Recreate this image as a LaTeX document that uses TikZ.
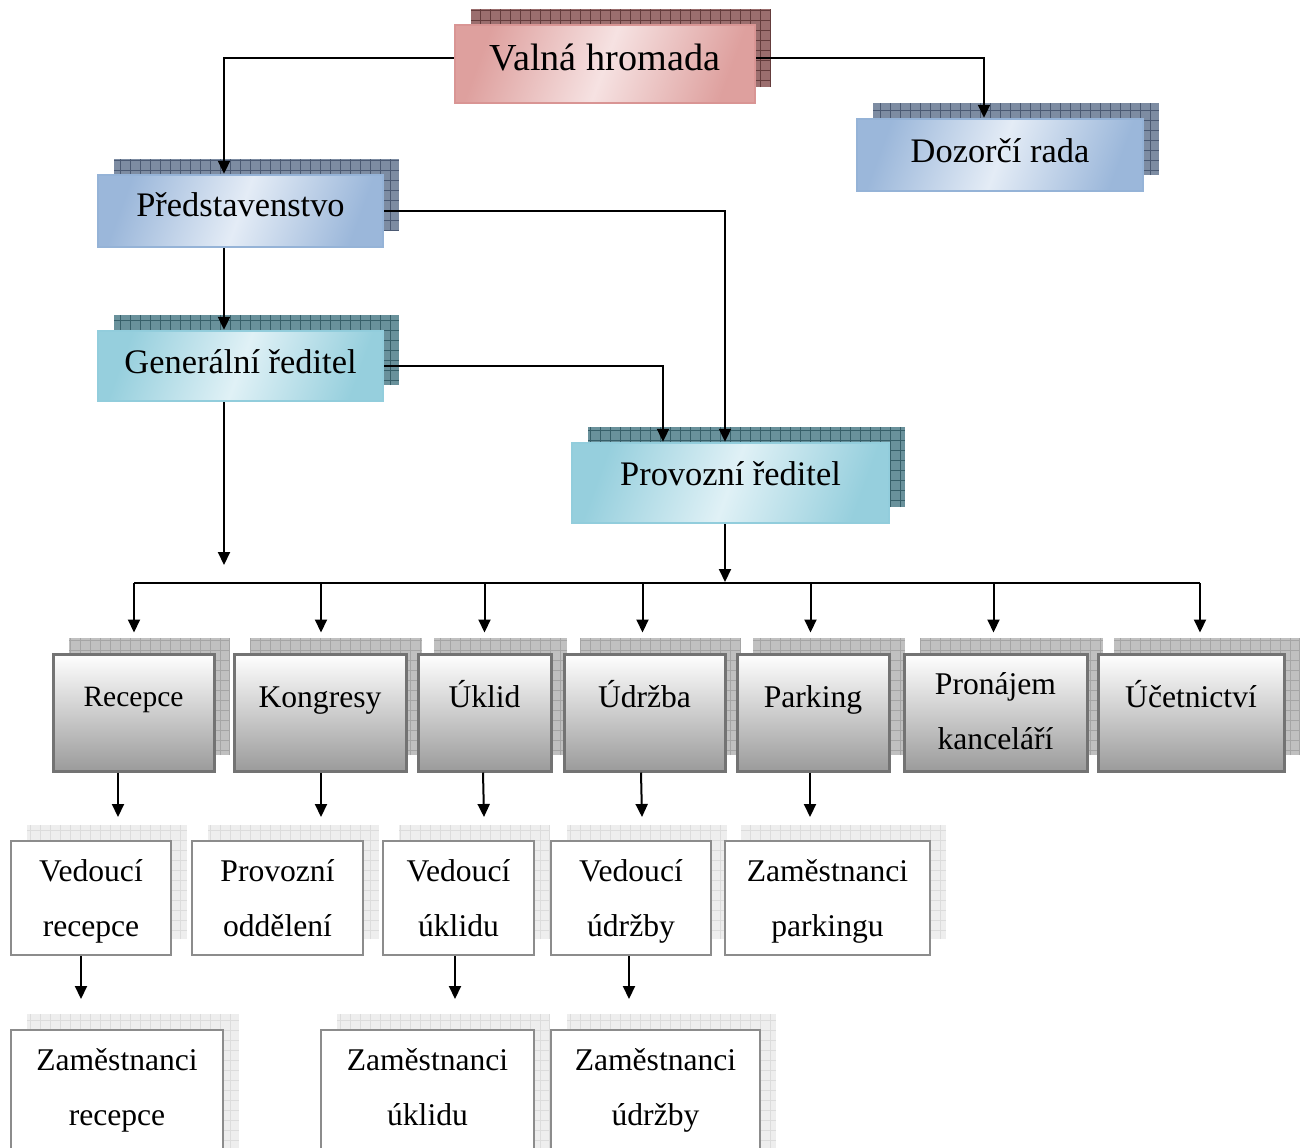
\documentclass[tikz,border=0pt]{standalone}
\usepackage{fontspec}
\setmainfont{Liberation Serif}
\usetikzlibrary{arrows.meta,fit,calc}
\definecolor{pinkD}{RGB}{222,160,158}
\definecolor{pinkL}{RGB}{246,226,226}
\definecolor{pinkB}{RGB}{217,149,148}
\definecolor{pinkS}{RGB}{155,110,110}
\definecolor{pinkG}{RGB}{100,60,60}
\definecolor{blueD}{RGB}{155,183,218}
\definecolor{blueL}{RGB}{228,236,246}
\definecolor{blueB}{RGB}{149,179,215}
\definecolor{blueS}{RGB}{125,140,162}
\definecolor{blueG}{RGB}{75,90,115}
\definecolor{cyanD}{RGB}{150,207,221}
\definecolor{cyanL}{RGB}{224,241,246}
\definecolor{cyanB}{RGB}{146,205,220}
\definecolor{cyanS}{RGB}{105,145,155}
\definecolor{cyanG}{RGB}{55,95,105}
\definecolor{greyB}{RGB}{115,115,115}
\definecolor{greyD}{RGB}{155,155,155}
\definecolor{greyS}{RGB}{192,192,192}
\definecolor{greyG}{RGB}{165,165,165}
\definecolor{whiteB}{RGB}{140,140,140}
\definecolor{whiteS}{RGB}{238,238,238}
\definecolor{whiteG}{RGB}{220,220,220}
\tikzset{
  conn/.style={line width=1pt, black},
  arr/.style={conn, -{Triangle[length=6.5pt,width=6pt]}},
  shgrid/.style 2 args={fill=#1, path picture={\draw[#2, line width=0.5pt, step=5pt] (path picture bounding box.south west) grid (path picture bounding box.north east);}},
  pinksh/.style={shgrid={pinkS}{pinkG}},
  bluesh/.style={shgrid={blueS}{blueG}},
  cyansh/.style={shgrid={cyanS}{cyanG}},
  greysh/.style={shgrid={greyS}{greyG}},
  whitesh/.style={shgrid={whiteS}{whiteG}},
  pinkbox/.style={draw=pinkB, line width=1.2pt, inner sep=0pt, left color=pinkD, right color=pinkD, middle color=pinkL, shading angle=70},
  bluebox/.style={draw=blueB, line width=1.2pt, inner sep=0pt, left color=blueD, right color=blueD, middle color=blueL, shading angle=70},
  cyanbox/.style={draw=cyanB, line width=1.2pt, inner sep=0pt, left color=cyanD, right color=cyanD, middle color=cyanL, shading angle=70},
  greybox/.style={draw=greyB, line width=1.5pt, inner sep=0pt, top color=white, bottom color=greyD},
  whitebox/.style={draw=whiteB, line width=1pt, inner sep=0pt, fill=white},
  txt/.style={inner sep=0pt, align=center, execute at begin node=\strut, execute at end node=\strut},
  pinktx/.style={txt, font=\fontsize{19.1}{23}\selectfont},
  bluetx/.style={txt, font=\fontsize{17.2}{21}\selectfont},
  cyantx/.style={txt, font=\fontsize{17.2}{21}\selectfont},
  greytx/.style={txt, font=\fontsize{15.8}{27.5}\selectfont},
  whitetx/.style={txt, font=\fontsize{15.8}{27.5}\selectfont},
}
\newcommand\orgbox[8]{%
  \path[#2sh] (#3+16,#4-16) rectangle (#5+16,#6-16);
  \node[#2box, fit={(#3,#4) (#5,#6)}] (#1) {};
  \node[#2tx] (#1-t) at ({(#3+#5)/2},#8) {#7};
}
\begin{document}
\begin{tikzpicture}[x=0.5pt,y=-0.5pt]
\useasboundingbox (0,0) rectangle (1306,1147);
\fill[white] (0,0) rectangle (1306,1147);
% top levels
\orgbox{valna}{pink}{455}{25}{755}{103}{Valná hromada}{61}
\orgbox{dozorci}{blue}{857}{119}{1143}{191}{Dozorčí rada}{154}
\orgbox{predst}{blue}{98}{175}{383}{247}{Představenstvo}{208.3}
\orgbox{gen}{cyan}{98}{331}{383}{401}{Generální ředitel}{365}
\orgbox{prov}{cyan}{572}{443}{889}{523}{Provozní ředitel}{476.6}
% departments
\orgbox{recepce}{grey}{53}{654}{214}{771}{{\fontsize{14.75}{27.5}\selectfont Recepce}}{695}
\orgbox{kongresy}{grey}{234}{654}{406}{771}{Kongresy}{696}
\orgbox{uklid}{grey}{418}{654}{551}{771}{Úklid}{696}
\orgbox{udrzba}{grey}{564}{654}{725}{771}{Údržba}{696}
\orgbox{parking}{grey}{737}{654}{889}{771}{Parking}{696}
\orgbox{pronajem}{grey}{904}{654}{1087}{771}{Pronájem\\kanceláří}{719}
\orgbox{ucet}{grey}{1098}{654}{1284}{771}{Účetnictví}{696.5}
% second row
\orgbox{vrec}{white}{11}{841}{171}{955}{Vedoucí\\recepce}{906}
\orgbox{provodd}{white}{192}{841}{363}{955}{Provozní\\oddělení}{906}
\orgbox{vukl}{white}{383}{841}{534}{955}{Vedoucí\\úklidu}{906}
\orgbox{vudr}{white}{551}{841}{711}{955}{Vedoucí\\údržby}{906}
\orgbox{zpark}{white}{725}{841}{930}{955}{Zaměstnanci\\parkingu}{906}
% third row
\orgbox{zrec}{white}{11}{1030}{223}{1170}{Zaměstnanci\\recepce}{1095}
\orgbox{zukl}{white}{321}{1030}{534}{1170}{Zaměstnanci\\úklidu}{1095}
\orgbox{zudr}{white}{551}{1030}{760}{1170}{Zaměstnanci\\údržby}{1095}
% connectors
\coordinate (genend) at (224,565);
\coordinate (busc) at (725,582);
\coordinate (busL) at (134,583);
\coordinate (busR) at (1200,583);
\draw[arr] ([yshift=3pt]valna.west) -| ([xshift=-8.25pt]predst.north);
\draw[arr] ([yshift=3pt]valna.east) -| ([xshift=-8pt]dozorci.north);
\draw[arr] ([xshift=-8.25pt]predst.south) -- ([xshift=-8.25pt]gen.north);
\draw[arr] (predst.east) -| ([xshift=-2.75pt]prov.north);
\draw[arr] (gen.east) -| ([xshift=-33.75pt]prov.north);
\draw[arr] ([xshift=-8.25pt]gen.south) -- (genend);
\draw[arr] ([xshift=-2.75pt]prov.south) -- (busc);
\draw[conn] (busL) -- (busR);
\foreach \n/\d in {recepce/0.5,kongresy/1,uklid/0,udrzba/-2,parking/-2.5,pronajem/-2,ucet/9}{
  \draw[arr] ($(\n.north |- busL)+(\d,0)$) -- ($(\n.north)+(\d,-20)$);
}
\draw[arr] ($(recepce.south)+(-15.5,0)$) -- ($(vrec.north)+(27,-23)$);
\draw[arr] ($(kongresy.south)+(1,0)$) -- ($(provodd.north)+(43.5,-23)$);
\draw[arr] ($(uklid.south)+(-1.5,0)$) -- ($(vukl.north)+(25.5,-23)$);
\draw[arr] ($(udrzba.south)+(-3.5,0)$) -- ($(vudr.north)+(11,-23)$);
\draw[arr] ($(parking.south)+(-3,0)$) -- ($(zpark.north)+(-17.5,-23)$);
\draw[arr] ($(vrec.south)+(-10,0)$) -- ($(zrec.north)+(-36,-30)$);
\draw[arr] ($(vukl.south)+(-3.5,0)$) -- ($(zukl.north)+(27.5,-30)$);
\draw[arr] ($(vudr.south)+(-2,0)$) -- ($(zudr.north)+(-26.5,-30)$);
\end{tikzpicture}
\end{document}
